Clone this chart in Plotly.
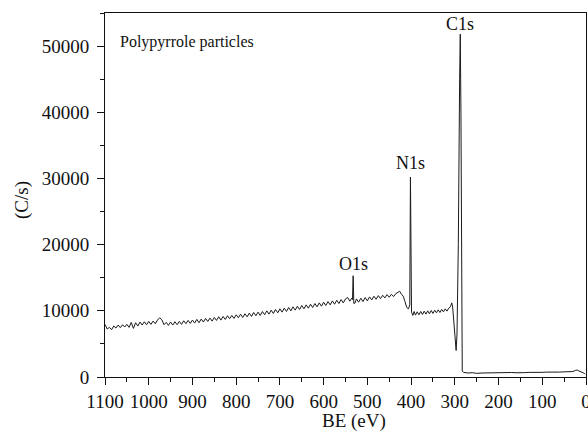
import plotly.graph_objects as go

be = [1100, 1095, 1090, 1085, 1080, 1075, 1070, 1065, 1060, 1055, 1050, 1045, 1040, 1035, 1030,
      1025, 1020, 1015, 1010, 1005, 1000, 995, 990, 985, 980, 975, 970, 965, 960, 955, 950, 945,
      940, 935, 930, 925, 920, 915, 910, 905, 900, 895, 890, 885, 880, 875, 870, 865, 860, 855,
      850, 845, 840, 835, 830, 825, 820, 815, 810, 805, 800, 795, 790, 785, 780, 775, 770, 765,
      760, 755, 750, 745, 740, 735, 730, 725, 720, 715, 710, 705, 700, 695, 690, 685, 680, 675,
      670, 665, 660, 655, 650, 645, 640, 635, 630, 625, 620, 615, 610, 605, 600, 595, 590, 585,
      580, 575, 570, 565, 560, 555, 550, 545, 540, 536, 534, 532.5, 531, 528, 525, 520, 515, 510,
      505, 500, 495, 490, 485, 480, 475, 470, 465, 460, 455, 450, 445, 440, 435, 430, 426, 422,
      418, 414, 410, 406, 403, 401.5, 400, 399, 396, 393, 390, 386, 382, 378, 374, 370, 366, 362,
      358, 354, 350, 346, 342, 338, 334, 330, 326, 322, 318, 314, 310, 307, 305, 302, 299, 297,
      295, 292, 289, 287.5, 286, 285, 284, 283, 280, 270, 260, 250, 240, 230, 220, 210, 200, 190,
      180, 170, 160, 150, 140, 130, 120, 110, 100, 90, 80, 70, 60, 50, 40, 30, 24, 20, 16, 10, 5, 2]

counts = [7950, 7250, 7500, 7150, 7700, 7400, 7850, 7450, 7900, 7550, 7950, 7500, 8250, 7350, 8200,
          7700, 8300, 7850, 8350, 7900, 8400, 7950, 8450, 8050, 8600, 8950, 8650, 7900, 8250, 7800, 8300, 7850,
          8350, 7900, 8400, 7950, 8500, 8050, 8550, 8100, 8600, 8150, 8700, 8200, 8750, 8300, 8850, 8400, 8900, 8450,
          9000, 8550, 9100, 8600, 9150, 8700, 9250, 8800, 9300, 8850, 9400, 8950, 9500, 9000, 9550, 9100, 9650, 9150,
          9750, 9250, 9800, 9300, 9900, 9400, 10000, 9500, 10100, 9600, 10200, 9700, 10300, 9800, 10400, 9900, 10500, 10000,
          10600, 10100, 10700, 10200, 10800, 10300, 10900, 10400, 11000, 10500, 11100, 10600, 11200, 10700, 11300, 10800, 11400, 10900,
          11500, 11000, 11600, 11100, 11700, 11200, 11800, 12000, 11450, 11900, 11700, 15300, 11100, 11200, 11800, 11300, 11900, 11400,
          12000, 11500, 12100, 11650, 12200, 11750, 12300, 11850, 12350, 11950, 12450, 12050, 12500, 12150, 12600, 12750, 12950, 12500,
          12200, 11400, 10500, 10300, 10900, 30200, 10300, 9800, 9300, 9900, 9350, 9850, 9400, 9900, 9450, 9950, 9500, 10000,
          9550, 10050, 9600, 10100, 9700, 10150, 9750, 10200, 9850, 10300, 9950, 10400, 10600, 11200, 10600, 8500, 6000, 4000,
          6500, 20000, 45000, 51800, 40000, 12000, 2500, 900, 700, 600, 650, 550, 600, 620, 580, 640, 600, 650,
          620, 680, 640, 700, 660, 700, 680, 720, 700, 740, 720, 760, 740, 780, 760, 820, 1000, 1050, 900, 800, 600, 400]

x_ticks = [1100, 1000, 900, 800, 700, 600, 500, 400, 300, 200, 100, 0]
y_ticks = [0, 10000, 20000, 30000, 40000, 50000]
y_ticktext = ["0", "10000", "20000", "30000", "40000", "50000"]

peak_names = ["C1s", "N1s", "O1s"]
peak_be = [287.5, 401.5, 532.5]
peak_label_y = [53300, 32400, 17000]

serif = "Liberation Serif, Times New Roman, serif"
ink = "#111"

fig = go.Figure()
fig.add_trace(go.Scatter(x=be, y=counts, mode="lines",
                         line=dict(color="#1a1a1a", width=1), showlegend=False))

for name, xb, yl in zip(peak_names, peak_be, peak_label_y):
    fig.add_annotation(x=xb, y=yl, text=name, showarrow=False, xref="x", yref="y",
                       font=dict(family=serif, size=18, color=ink))

fig.add_annotation(x=(118 - 105) / 481, y=(377 - 42) / 364, text="Polypyrrole particles",
                   showarrow=False, xanchor="left", yanchor="middle", xref="paper", yref="paper",
                   font=dict(family=serif, size=16, color=ink))

# axis titles
fig.add_annotation(x=(22 - 105) / 481, y=(377 - 200) / 364, text="(C/s)", textangle=-90,
                   showarrow=False, xref="paper", yref="paper", xanchor="center", yanchor="middle",
                   font=dict(family=serif, size=19, color=ink))
fig.add_annotation(x=(354 - 105) / 481, y=-(421 - 377) / 364, text="BE (eV)",
                   showarrow=False, xref="paper", yref="paper", xanchor="center", yanchor="middle",
                   font=dict(family=serif, size=19, color=ink))

axis_common = dict(showline=True, linecolor=ink, linewidth=1, mirror=True,
                   ticks="outside", ticklen=7, tickwidth=1, tickcolor=ink,
                   showgrid=False, zeroline=False, automargin=False,
                   ticklabeloverflow="allow",
                   tickfont=dict(family=serif, size=19, color=ink))

fig.update_xaxes(range=[1100, 0], tickmode="array", tickvals=x_ticks,
                 minor=dict(ticks="outside", ticklen=4, dtick=50, tick0=0, tickcolor=ink),
                 **axis_common)
fig.update_yaxes(range=[0, 55000], tickmode="array", tickvals=y_ticks, ticktext=y_ticktext,
                 ticklabelstandoff=4,
                 minor=dict(ticks="outside", ticklen=4, dtick=5000, tick0=0, tickcolor=ink),
                 **axis_common)

fig.update_layout(width=588, height=432, margin=dict(l=105, r=2, t=13, b=55),
                  plot_bgcolor="white", paper_bgcolor="white", hovermode=False)

# remove the default 8px page margin so the 588x432 figure fills the window exactly
fig.write_html("out.html", config={"displayModeBar": False},
               post_script="document.body.style.margin='0px';document.body.style.overflow='hidden';")
